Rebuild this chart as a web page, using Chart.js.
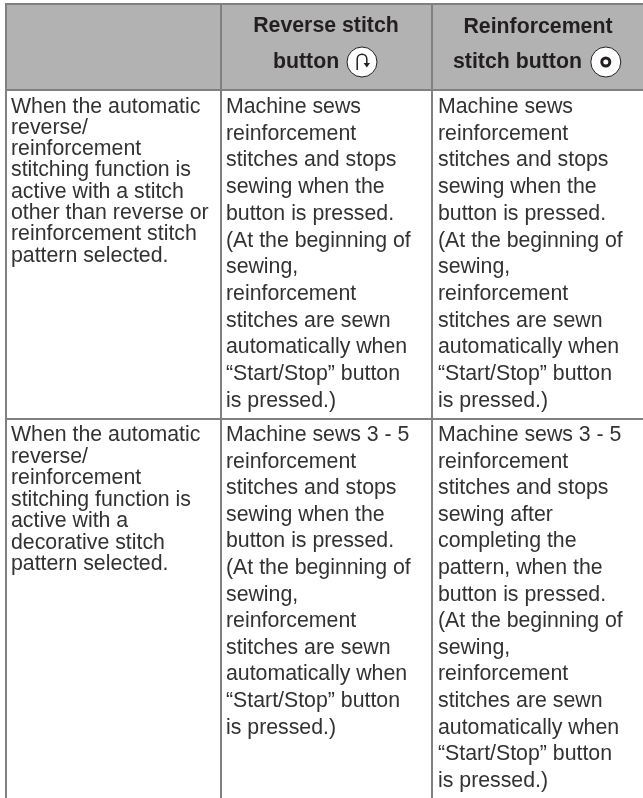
<!DOCTYPE html>
<html>
<head>
<meta charset="utf-8">
<title>Stitch buttons</title>
<script src="https://cdn.jsdelivr.net/npm/chart.js@4"></script>
<style>
html, body { margin: 0; padding: 0; background: #fff; }
canvas { display: block; }
</style>
</head>
<body>
<canvas id="tableChart" width="643" height="798"></canvas>
<script>
var headerCol2 = ['Reverse stitch', 'button'];
var headerCol3 = ['Reinforcement', 'stitch button'];

var row1Col1 = ['When the automatic', 'reverse/', 'reinforcement', 'stitching function is', 'active with a stitch', 'other than reverse or', 'reinforcement stitch', 'pattern selected.'];
var row1Col2 = ['Machine sews', 'reinforcement', 'stitches and stops', 'sewing when the', 'button is pressed.', '(At the beginning of', 'sewing,', 'reinforcement', 'stitches are sewn', 'automatically when', '\u201cStart/Stop\u201d button', 'is pressed.)'];
var row1Col3 = ['Machine sews', 'reinforcement', 'stitches and stops', 'sewing when the', 'button is pressed.', '(At the beginning of', 'sewing,', 'reinforcement', 'stitches are sewn', 'automatically when', '\u201cStart/Stop\u201d button', 'is pressed.)'];

var row2Col1 = ['When the automatic', 'reverse/', 'reinforcement', 'stitching function is', 'active with a', 'decorative stitch', 'pattern selected.'];
var row2Col2 = ['Machine sews 3 - 5', 'reinforcement', 'stitches and stops', 'sewing when the', 'button is pressed.', '(At the beginning of', 'sewing,', 'reinforcement', 'stitches are sewn', 'automatically when', '\u201cStart/Stop\u201d button', 'is pressed.)'];
var row2Col3 = ['Machine sews 3 - 5', 'reinforcement', 'stitches and stops', 'sewing after', 'completing the', 'pattern, when the', 'button is pressed.', '(At the beginning of', 'sewing,', 'reinforcement', 'stitches are sewn', 'automatically when', '\u201cStart/Stop\u201d button', 'is pressed.)'];

var textColor = '#333132';
var headColor = '#231f20';
var ruleColor = '#808080';
var headerFill = '#b2b2b2';
var bodyFont = '21.3px "Liberation Sans"';
var boldFont = 'bold 21.3px "Liberation Sans"';

// one text block = a scatter dataset, one invisible point per line of text
function textBlock(lines, x, firstY, step, font, align, color) {
    return {
        type: 'scatter',
        data: lines.map(function (t, i) { return { x: x, y: firstY + i * step, text: t }; }),
        pointRadius: 0,
        textFont: font,
        textAlign: align || 'left',
        textColor: color || textColor
    };
}

function rule(x1, y1, x2, y2) {
    return {
        type: 'line',
        data: [{ x: x1, y: y1 }, { x: x2, y: y2 }],
        borderColor: ruleColor,
        borderWidth: 2,
        pointRadius: 0,
        fill: false
    };
}

function icon(x, y, r, width) {
    return {
        type: 'scatter',
        data: [{ x: x, y: y }],
        pointStyle: 'circle',
        pointRadius: r,
        pointBackgroundColor: '#fff',
        pointBorderColor: headColor,
        pointBorderWidth: width
    };
}

var tableText = {
    id: 'tableText',
    afterDatasetsDraw: function (chart) {
        var ctx = chart.ctx;
        var xs = chart.scales.x, ys = chart.scales.y;
        ctx.save();
        ctx.textBaseline = 'alphabetic';
        chart.data.datasets.forEach(function (ds) {
            if (!ds.textFont) return;
            ctx.font = ds.textFont;
            ctx.textAlign = ds.textAlign;
            ctx.fillStyle = ds.textColor;
            ds.data.forEach(function (p) {
                ctx.fillText(p.text, xs.getPixelForValue(p.x), ys.getPixelForValue(p.y));
            });
        });

        // little hook and arrow inside the reverse stitch button
        var cx = xs.getPixelForValue(362), cy = ys.getPixelForValue(62);
        ctx.strokeStyle = headColor;
        ctx.fillStyle = headColor;
        ctx.lineWidth = 1.5;
        ctx.beginPath();
        ctx.moveTo(cx - 4.8, cy + 8);
        ctx.lineTo(cx - 4.8, cy - 3);
        ctx.arc(cx, cy - 3, 4.8, Math.PI, 0);
        ctx.lineTo(cx + 4.8, cy + 1);
        ctx.stroke();
        ctx.beginPath();
        ctx.moveTo(cx + 1.6, cy + 1);
        ctx.lineTo(cx + 8, cy + 1);
        ctx.lineTo(cx + 4.8, cy + 5.5);
        ctx.closePath();
        ctx.fill();
        ctx.restore();
    }
};

// chart.js paints the first dataset on top, so the header fill goes last
var datasets = [
    icon(605.8, 62, 4, 3),
    icon(605.8, 62, 15, 1),
    icon(362, 62, 15, 1),
    rule(5, 4, 643, 4),
    rule(5, 90, 643, 90),
    rule(5, 419, 643, 419),
    rule(6, 3, 6, 798),
    rule(221, 3, 221, 798),
    rule(432, 3, 432, 798),
    textBlock([headerCol2[0]], 326, 32, 0, boldFont, 'center', headColor),
    textBlock([headerCol2[1]], 273, 68, 0, boldFont, 'left', headColor),
    textBlock([headerCol3[0]], 538, 33, 0, boldFont, 'center', headColor),
    textBlock([headerCol3[1]], 453, 68, 0, boldFont, 'left', headColor),
    textBlock(row1Col1, 11, 112.5, 21.3, bodyFont),
    textBlock(row1Col2, 226, 113, 26.7, bodyFont),
    textBlock(row1Col3, 438, 113, 26.7, bodyFont),
    textBlock(row2Col1, 11, 441, 21.5, bodyFont),
    textBlock(row2Col2, 226, 441, 26.6, bodyFont),
    textBlock(row2Col3, 438, 441, 26.6, bodyFont),
    {
        type: 'line',
        data: [{ x: 6, y: 4 }, { x: 643, y: 4 }],
        borderWidth: 0,
        pointRadius: 0,
        backgroundColor: headerFill,
        fill: { value: 90 }
    }
];

new Chart(document.getElementById('tableChart'), {
    type: 'scatter',
    data: { datasets: datasets },
    plugins: [tableText],
    options: {
        responsive: false,
        animation: false,
        layout: { padding: 0, autoPadding: false },
        plugins: { legend: { display: false }, tooltip: { enabled: false } },
        scales: {
            x: { type: 'linear', display: false, min: 0, max: 643 },
            y: { type: 'linear', display: false, min: 0, max: 798, reverse: true }
        }
    }
});
</script>
</body>
</html>
